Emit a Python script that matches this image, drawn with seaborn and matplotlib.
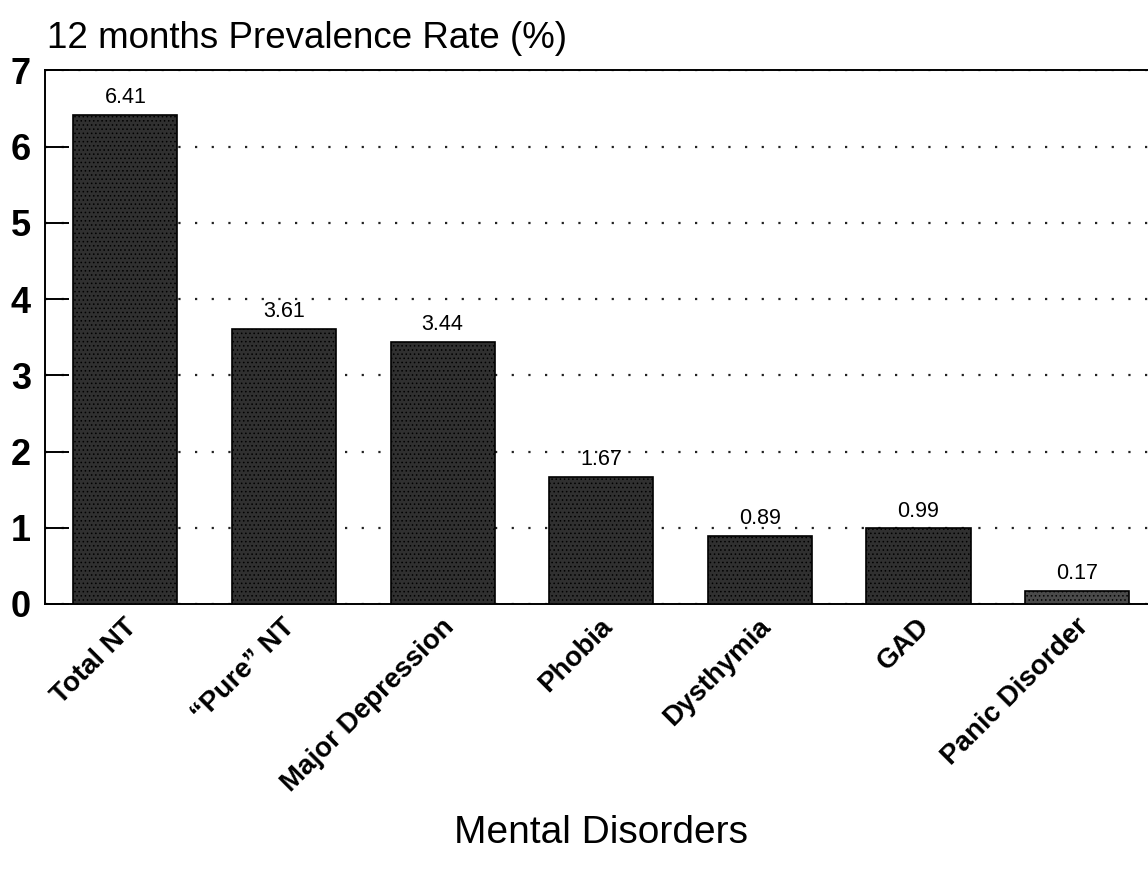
import matplotlib
matplotlib.use("Agg")
import matplotlib.pyplot as plt
import matplotlib.transforms as mtransforms
import seaborn as sns
import pandas as pd

# 12-month prevalence of mental disorders (%)
disorders = ["Total NT", "\u201cPure\u201d NT", "Major Depression", "Phobia",
             "Dysthymia", "GAD", "Panic Disorder"]
prevalence = [6.41, 3.61, 3.44, 1.67, 0.89, 0.99, 0.17]
value_labels = ["6.41", "3.61", "3.44", "1.67", "0.89", "0.99", "0.17"]
y_ticks = [0, 1, 2, 3, 4, 5, 6, 7]

df = pd.DataFrame({"disorder": disorders, "rate": prevalence})

sns.set_style("ticks")
plt.rcParams["font.family"] = ["Liberation Sans", "DejaVu Sans"]
plt.rcParams["text.color"] = "black"
plt.rcParams["axes.labelcolor"] = "black"
plt.rcParams["xtick.color"] = "black"
plt.rcParams["ytick.color"] = "black"
plt.rcParams["hatch.color"] = "#8a8a8a"
plt.rcParams["hatch.linewidth"] = 0.6

fig = plt.figure(figsize=(11.48, 8.69), dpi=100)
ax = fig.add_axes([0.039, 0.305, 0.961, 0.614])

sns.barplot(data=df, x="disorder", y="rate", color="#303030", width=0.656,
            edgecolor="black", linewidth=1.2, saturation=1, ax=ax, zorder=3)

# grainy texture on the bars
for i, bar in enumerate(ax.patches):
    bar.set_hatch("....")
    if i == len(ax.patches) - 1:
        bar.set_facecolor("#4a4a4a")

ax.bar_label(ax.containers[0], labels=value_labels, padding=5, fontsize=15.5,
             color="black")

ax.set_ylim(0, 7)
ax.set_xlim(-0.508, 6.447)
ax.set_yticks(y_ticks)
ax.set_yticklabels([str(t) for t in y_ticks], fontsize=26, fontweight="bold")
ax.tick_params(axis="y", direction="in", length=17, width=1.4, pad=10)
ax.tick_params(axis="x", length=0, pad=7)
ax.set_xticks(range(len(disorders)))
ax.set_xticklabels(disorders, rotation=45, ha="right", va="top",
                   fontsize=20, fontweight="bold")
shift = mtransforms.ScaledTranslation(12 / 72, 0, fig.dpi_scale_trans)
for lbl in ax.get_xticklabels():
    lbl.set_transform(lbl.get_transform() + shift)

ax.yaxis.grid(True, linestyle=(0, (1, 6.5)), linewidth=1.6, color="#222222", zorder=0)
ax.set_axisbelow(True)

for side in ["left", "bottom", "top"]:
    ax.spines[side].set_visible(True)
    ax.spines[side].set_linewidth(1.4)
    ax.spines[side].set_color("black")
ax.spines["right"].set_visible(False)

ax.set_xlabel("Mental Disorders", fontsize=28)
ax.xaxis.set_label_coords(0.504, -0.395)
ax.set_ylabel("")
fig.text(0.041, 0.945, "12 months Prevalence Rate (%)", fontsize=26.5, ha="left",
         va="baseline")

fig.savefig("out.png", dpi=100, facecolor="white")
